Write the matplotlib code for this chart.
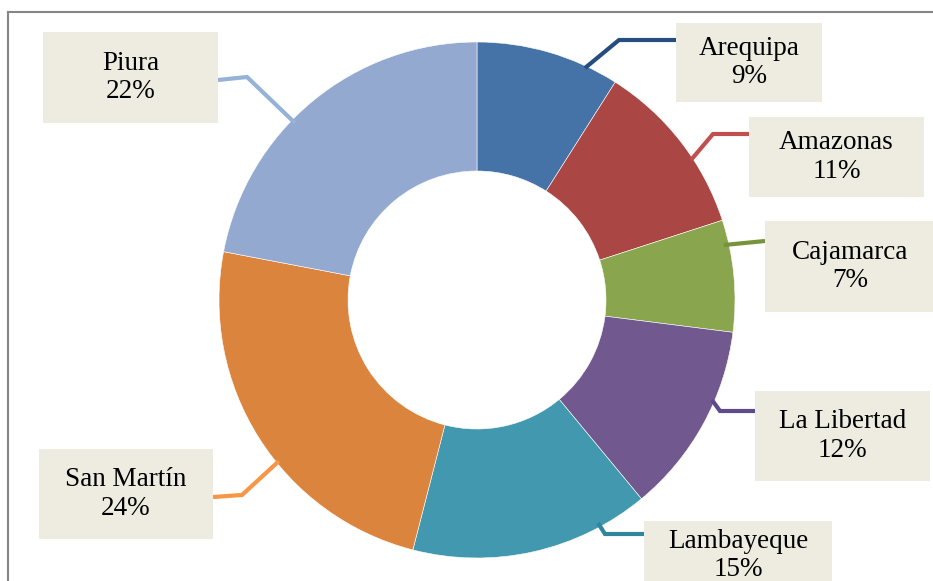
import numpy as np
import matplotlib.pyplot as plt

# data
regions = ['Arequipa', 'Amazonas', 'Cajamarca', 'La Libertad', 'Lambayeque', 'San Martín', 'Piura']
shares = [9, 11, 7, 12, 15, 24, 22]
colors = ['#4572A7', '#AA4643', '#89A54E', '#71588F', '#4198AF', '#DB843D', '#93A9CF']
leader_colors = ['#254E7E', '#C0504D', '#77933C', '#5F4B8B', '#31859C', '#F79646', '#95B3D7']

W, H = 933, 581
fig = plt.figure(figsize=(W / 100, H / 100), dpi=100)
ax = fig.add_axes([0, 0, 1, 1])

def Y(y):
    # pixel row (from top) -> data y
    return H - y

cx, cy, r = 477, 300, 258
ax.pie(shares, colors=colors, startangle=90, counterclock=False,
       center=(cx, Y(cy)), radius=r, frame=True,
       wedgeprops=dict(width=r * 0.5, edgecolor='white', linewidth=0.4))
ax.set_xlim(0, W)
ax.set_ylim(0, H)
ax.set_aspect('equal')
ax.axis('off')

# label boxes (left, top, right, bottom in pixels) and leader paths
boxes = {
    'Arequipa':    (676, 23, 822, 102),
    'Amazonas':    (749, 117, 924, 197),
    'Cajamarca':   (765, 221, 935, 312),
    'La Libertad': (755, 391, 930, 481),
    'Lambayeque':  (644, 521, 832, 590),
    'San Martín':  (39, 449, 213, 539),
    'Piura':       (43, 32, 218, 123),
}
leaders = {
    'Arequipa':    [(585, 68), (619, 40), (676, 40)],
    'Amazonas':    [(691, 160), (713, 134), (749, 134)],
    'Cajamarca':   [(724, 245), (765, 241)],
    'La Libertad': [(712, 400), (720, 411), (755, 411)],
    'Lambayeque':  [(598, 523), (605, 534), (644, 534)],
    'San Martín':  [(279, 461), (242, 495), (213, 497)],
    'Piura':       [(295, 123), (247, 77), (218, 80)],
}

for name, val, lc in zip(regions, shares, leader_colors):
    pts = leaders[name]
    ax.plot([p[0] for p in pts], [Y(p[1]) for p in pts], color=lc, lw=3.0,
            solid_joinstyle='miter', solid_capstyle='butt', zorder=3)
    x0, y0, x1, y1 = boxes[name]
    ax.add_patch(plt.Rectangle((x0, Y(y1)), x1 - x0, y1 - y0,
                               facecolor='#EEECE1', edgecolor='none', zorder=4))
    ax.text((x0 + x1) / 2, Y((y0 + y1) / 2), f'{name}\n{val}%',
            ha='center', va='center', fontsize=19.5, family='Liberation Serif',
            linespacing=1.2, zorder=5)

# chart border (top and left visible)
ax.plot([8, W], [Y(12), Y(12)], color='#868686', lw=1.5, zorder=6)
ax.plot([8, 8], [Y(12), 0], color='#868686', lw=1.5, zorder=6)

fig.savefig('out.png', dpi=100)
